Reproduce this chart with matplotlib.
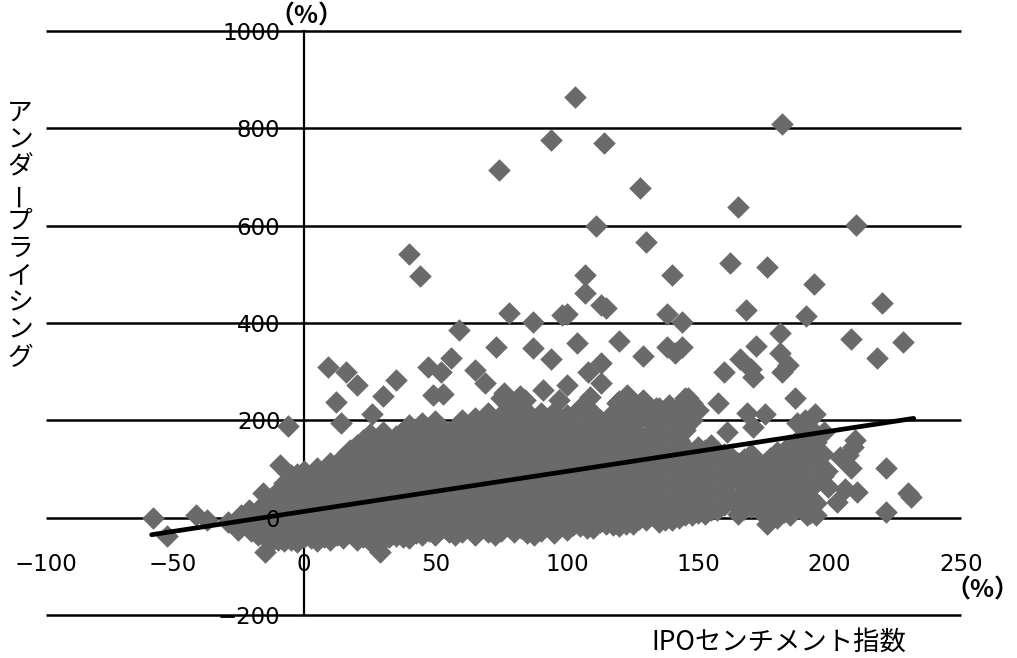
import numpy as np
import matplotlib
matplotlib.use('Agg')
import matplotlib.pyplot as plt

plt.rcParams['font.family'] = ['DejaVu Sans', 'Noto Sans CJK JP']
jp_font = ['Noto Sans CJK JP', 'DejaVu Sans']

# dense part of the cloud, one y list per x column
cloud_x = [-20, -15, -10, -5, 0, 5, 10, 15, 20, 25, 30, 35, 40, 45, 50, 55, 60, 65, 70, 75,
           80, 85, 90, 95, 100, 105, 110, 115, 120, 125, 130, 135, 140, 145, 150, 155,
           160, 165, 170, 175, 180, 185, 190, 195]
cloud_y = [
    [12, -10, -28],
    [30, -5, -40],
    [55, 20, -15, -45],
    [88, 55, 22, -12, -45],
    [95, 62, 28, -6, -40],
    [103, 70, 35, 0, -35, -48],
    [112, 78, 44, 10, -25, -45],
    [125, 90, 55, 20, -15, -42],
    [150, 115, 80, 45, 10, -25, -45],
    [172, 138, 105, 70, 35, 0, -35, -48],
    [175, 140, 108, 72, 38, 3, -30, -45],
    [168, 135, 100, 65, 30, -5, -38],
    [190, 155, 120, 85, 50, 15, -20, -42],
    [195, 160, 125, 90, 55, 20, -15, -35],
    [198, 165, 130, 95, 60, 25, -10, -35],
    [175, 140, 105, 70, 35, 0, -30],
    [200, 165, 130, 95, 60, 25, -8, -30],
    [205, 172, 138, 103, 68, 33, -2, -35],
    [215, 180, 145, 110, 75, 40, 5, -30],
    [245, 210, 175, 140, 105, 70, 35, 0, -28],
    [235, 200, 165, 130, 95, 60, 25, -10, -30],
    [205, 172, 138, 103, 68, 33, -2, -32],
    [215, 180, 145, 110, 75, 40, 5, -28],
    [195, 160, 125, 90, 55, 20, -15, -32],
    [210, 175, 140, 105, 70, 35, 0, -25],
    [225, 190, 155, 120, 85, 50, 15, -18],
    [215, 180, 145, 110, 75, 40, 5, -22],
    [195, 160, 125, 90, 55, 20, -12],
    [240, 205, 170, 135, 100, 65, 30, -5, -18],
    [225, 190, 155, 120, 85, 50, 15, -12],
    [205, 165, 130, 95, 60, 25, -5],
    [225, 190, 150, 115, 80, 45, 10, -8],
    [210, 170, 135, 100, 65, 30, -5],
    [245, 215, 180, 145, 110, 75, 40, 5],
    [222, 145, 110, 75, 40, 10],
    [150, 115, 80, 45, 15],
    [130, 95, 60, 25],
    [112, 78, 42, 8],
    [130, 95, 60, 22],
    [110, 75, 40, 5],
    [135, 100, 65, 30, 0],
    [150, 112, 72, 35, 5],
    [170, 125, 90, 50, 15],
    [155, 110, 72, 30, 5],
]

# columns in between, they close the gaps of the first set
cloud2_x = [-17.5, -12.5, -7.5, -2.5, 2.5, 7.5, 12.5, 17.5, 22.5, 27.5, 32.5, 37.5, 42.5, 47.5, 52.5, 57.5,
            62.5, 67.5, 72.5, 77.5, 82.5, 87.5, 92.5, 97.5, 102.5, 107.5, 112.5, 117.5, 122.5, 127.5,
            132.5, 137.5, 142.5, 147.5, 152.5, 162.5, 167.5, 172.5, 177.5, 182.5, 187.5, 192.5, 197.5]
cloud2_y = [
    [15, -18, -35],
    [40, 10, -22, -50],
    [72, 38, 5, -28, -48],
    [90, 72, 40, 6, -28, -50],
    [85, 52, 18, -18, -42],
    [95, 60, 25, -10, -40],
    [100, 65, 30, -5, -35],
    [140, 108, 72, 38, 3, -30],
    [160, 125, 90, 55, 20, -15, -40],
    [155, 120, 88, 52, 18, -18, -40],
    [155, 122, 88, 52, 18, -15, -40],
    [178, 150, 118, 82, 48, 12, -22, -40],
    [175, 140, 105, 70, 35, 0, -32],
    [180, 145, 110, 75, 40, 5, -28],
    [185, 150, 115, 80, 45, 10, -22],
    [185, 150, 115, 80, 45, 10, -18, -35],
    [185, 150, 115, 80, 45, 10, -22],
    [190, 155, 120, 85, 50, 15, -18],
    [198, 162, 128, 92, 58, 22, -12, -35],
    [225, 190, 155, 120, 85, 50, 15, -18],
    [218, 182, 148, 112, 78, 42, 8, -22],
    [190, 155, 120, 85, 50, 15, -18, -35],
    [200, 165, 130, 95, 60, 25, -10],
    [180, 145, 110, 75, 40, 5, -18],
    [190, 155, 120, 85, 50, 15, -15],
    [208, 172, 138, 102, 68, 32, -2, -22],
    [200, 165, 130, 95, 60, 25, -8],
    [215, 178, 142, 108, 72, 38, 3, -15],
    [220, 185, 150, 118, 82, 48, 12, -12],
    [210, 172, 138, 102, 68, 32, -2],
    [215, 178, 142, 108, 72, 38, 5],
    [200, 168, 132, 98, 62, 28, -5],
    [228, 195, 160, 125, 90, 55, 20, 0],
    [235, 200, 125, 92, 58, 25, 5],
    [140, 100, 62, 28, 8],
    [105, 75, 40],
    [120, 88, 52, 18],
    [100, 68, 30],
    [122, 85, 50, 15],
    [108, 82, 45, 12],
    [135, 98, 58, 22],
    [185, 120, 78, 40, 10],
    [130, 85],
]

# points that stand apart from the dense part
left_x = [-57.5, -52, -41, -37, -29, -24, -25, -21, -15.5, -9, -15, 29, -6, 12, 14, 9, 16, 20, 26, 30, 35]
left_y = [0, -38, 6, -4, -8, 6, -25, 16, 51, 109, -70, -70, 189, 238, 195, 310, 300, 273, 214, 249, 282]

upper_x = [103, 182, 94, 114, 74, 128, 165, 111, 210, 130, 40, 44, 162, 176, 107, 140, 194, 107, 113, 115,
           220, 100, 98, 78, 168, 87, 144, 138, 191, 181, 59, 228, 208, 218, 73, 87, 94, 104, 120, 129,
           141, 138, 144, 113, 108, 113, 100, 91, 109, 97, 95, 123, 129, 134, 139, 146, 149, 125, 119,
           82, 84, 76, 78, 84, 65, 69, 56, 52, 47, 49, 53, 160, 166, 171, 170, 181, 184, 182, 172]
upper_y = [865, 809, 775, 770, 715, 678, 639, 600, 602, 567, 542, 497, 524, 516, 499, 499, 481, 462, 436, 430,
           442, 419, 416, 421, 427, 403, 403, 419, 415, 380, 386, 360, 368, 329, 351, 349, 325, 358, 362, 333,
           339, 351, 351, 318, 300, 277, 273, 263, 247, 242, 218, 253, 242, 226, 232, 246, 222, 212, 236,
           249, 222, 257, 222, 242, 304, 277, 329, 300, 310, 253, 255, 300, 325, 290, 305, 339, 314, 300, 352]

right_x = [157.5, 168.5, 175.5, 171, 187, 194.5, 187.6, 190.6, 198, 161, 209.7, 207, 208, 199, 221.5, 230, 231,
           221.5, 210.5, 203, 199.5, 206, 191.5, 192, 176, 163, 172, 178.5, 182, 191, 194.5, 188, 191, 182,
           187, 184, 178, 172, 166, 163, 168, 160, 171, 178, 184, 189, 193, 170, 163, 157, 209, 204]
right_y = [236, 215, 212, 187, 246, 212, 195, 201, 177, 177, 160, 129, 103, 95, 103, 51, 43,
           12, 53, 33, 62, 58, 6, 18, -14, 123, 119, 95, 125, 133, 143, 160, 115, 88,
           85, 60, 65, 70, 75, 85, 45, 55, 28, 20, 20, 28, 40, 38, 35, 15, 146, 125]

# fitted line
fit_x = [-58, 232]
fit_y = [-35, 204]

x_ticks = [-100, -50, 0, 50, 100, 150, 200, 250]
y_ticks = [1000, 800, 600, 400, 200, 0, -200]
ylabel_text = 'アンダープライシング'
xlabel_text = 'IPOセンチメント指数'

W, H = 1017, 658
fig = plt.figure(figsize=(W / 100, H / 100), dpi=100)
ax = fig.add_axes([46 / W, 1 - 615 / H, (961 - 46) / W, (615 - 31) / H])
ax.set_xlim(-98.2, 250)
ax.set_ylim(-200, 1000)
ax.axis('off')

for y in y_ticks:
    ax.plot([-98.2, 250], [y, y], color='black', lw=1.8, zorder=1, clip_on=False, solid_capstyle='butt')
ax.plot([0, 0], [-200, 1000], color='black', lw=1.6, zorder=1, clip_on=False)

all_x = np.concatenate([np.repeat(cloud_x, [len(c) for c in cloud_y]),
                        np.repeat(cloud2_x, [len(c) for c in cloud2_y]), left_x, upper_x, right_x])
all_y = np.concatenate([np.concatenate(cloud_y), np.concatenate(cloud2_y), left_y, upper_y, right_y])
ax.scatter(all_x, all_y, marker='D', s=132, color='#6a6a6a', linewidths=0, zorder=2, clip_on=False)

ax.plot(fit_x, fit_y, color='black', lw=3.4, zorder=3, solid_capstyle='round')

for y in y_ticks:
    ax.text(-9, y, str(y).replace('-', '−'), ha='right', va='center_baseline', fontsize=16.5, zorder=4)
for x in x_ticks:
    label = str(x).replace('-', '−')
    ax.text(-98.2 if x == -100 else x, -91, label, ha='center', va='center_baseline', fontsize=16.5, zorder=4)

ax.text(1, 1030, '（%）', ha='center', va='center', fontsize=18, fontweight='bold', family=jp_font, zorder=4)
fig.text(982 / W, 1 - 590 / H, '（%）', ha='center', va='center', fontsize=18, fontweight='bold', family=jp_font)

# vertical label, one character at a time
for i, ch in enumerate(ylabel_text):
    fig.text(20 / W, 1 - (113 + 27.2 * i) / H, ch, ha='center', va='center', fontsize=18.5, family=jp_font,
             rotation=90 if ch == 'ー' else 0)
fig.text(779 / W, 1 - 642 / H, xlabel_text, ha='center', va='center', fontsize=19, family=jp_font)

fig.savefig('out.png', dpi=100)
